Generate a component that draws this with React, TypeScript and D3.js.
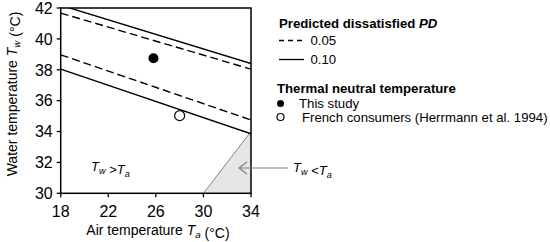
import React from "react";
import * as d3 from "d3";

const xTicks = [18, 22, 26, 30, 34];
const yTicks = [30, 32, 34, 36, 38, 40, 42];
const pdUpper010 = [[18, 42.18], [34, 38.4]];
const pdUpper005 = [[18, 41.67], [34, 38.04]];
const pdLower005 = [[18, 38.97], [34, 34.75]];
const pdLower010 = [[18, 38.04], [34, 33.85]];
const thisStudy = [[25.8, 38.75]];
const french = [[28.0, 35.03]];
const twLessTa = [[30, 30], [34, 30], [34, 34]];

const FONT = "Arial, 'Liberation Sans', sans-serif";

export default function App() {
  const W = 550, H = 242;
  const x = d3.scaleLinear().domain([18, 34]).range([60.7, 251]);
  const y = d3.scaleLinear().domain([30, 42]).range([193.3, 8]);
  const line = d3.line<number[]>().x(d => x(d[0])).y(d => y(d[1]));
  const x0 = x(18), x1 = x(34), y0 = y(30), y1 = y(42);

  const sub = (base: string, s: string, size: number) => (
    <>
      <tspan fontStyle="italic">{base}</tspan>
      <tspan fontStyle="italic" fontSize={size * 0.7} dy={size * 0.22}>{s}</tspan>
      <tspan dy={-size * 0.22}></tspan>
    </>
  );
  const LF = 13.2;

  return (
    <svg width={W} height={H} style={{ position: "absolute", left: 0, top: 0, background: "#fff" }} fontFamily={FONT}>
      <defs>
        <clipPath id="plot">
          <rect x={x0} y={y1} width={x1 - x0} height={y0 - y1} />
        </clipPath>
      </defs>
      {/* shaded Tw<Ta region */}
      <path d={line(twLessTa as any) + "Z"} fill="#e6e6e6" stroke="none" />
      <path d={line([twLessTa[0], twLessTa[2]] as any) || ""} stroke="#777" strokeWidth={0.9} fill="none" />
      <g clipPath="url(#plot)" fill="none" stroke="#000" strokeWidth={1.4}>
        <path d={line(pdUpper010 as any) || ""} />
        <path d={line(pdLower010 as any) || ""} />
        <path d={line(pdUpper005 as any) || ""} strokeDasharray="8,4" />
        <path d={line(pdLower005 as any) || ""} strokeDasharray="8,4" />
      </g>
      {/* frame */}
      <rect x={x0} y={y1} width={x1 - x0} height={y0 - y1} fill="none" stroke="#000" strokeWidth={1.5} />
      {/* ticks */}
      {yTicks.map(t => (
        <g key={"y" + t}>
          <line x1={x0 - 4} x2={x0} y1={y(t)} y2={y(t)} stroke="#000" strokeWidth={1.3} />
          <text x={x0 - 8} y={y(t)} dy="0.36em" textAnchor="end" fontSize={16}>{t}</text>
        </g>
      ))}
      {xTicks.map(t => (
        <g key={"x" + t}>
          <line x1={x(t)} x2={x(t)} y1={y0} y2={y0 + 4} stroke="#000" strokeWidth={1.3} />
          <text x={x(t)} y={y0 + 24} textAnchor="middle" fontSize={16}>{t}</text>
        </g>
      ))}
      {/* points */}
      {thisStudy.map((d, i) => <circle key={"a" + i} cx={x(d[0])} cy={y(d[1])} r={5} fill="#000" />)}
      {french.map((d, i) => <circle key={"b" + i} cx={x(d[0])} cy={y(d[1])} r={5} fill="#fff" stroke="#000" strokeWidth={1.2} />)}
      {/* axis titles */}
      <text x={158} y={235} textAnchor="middle" fontSize={14}>
        Air temperature {sub("T", "a", 14)} (°C)
      </text>
      <text transform={`translate(17,94) rotate(-90)`} textAnchor="middle" fontSize={14}>
        Water temperature {sub("T", "w", 14)} (°C)
      </text>
      {/* annotations */}
      <text x={91} y={171} fontSize={13}>{sub("T", "w", 13)} &gt;{sub("T", "a", 13)}</text>
      <line x1={288} x2={239} y1={168} y2={168} stroke="#808080" strokeWidth={1.2} />
      <path d="M247,162 L239,168 L247,174" fill="none" stroke="#808080" strokeWidth={1.2} />
      <text x={293} y={172} fontSize={13}>{sub("T", "w", 13)} &lt;{sub("T", "a", 13)}</text>
      {/* legend */}
      <text x={279} y={28.3} fontSize={LF} fontWeight="bold">Predicted dissatisfied <tspan fontStyle="italic">PD</tspan></text>
      <line x1={279} x2={304} y1={40.5} y2={40.5} stroke="#000" strokeWidth={1.3} strokeDasharray="5,4" />
      <text x={310.5} y={45} fontSize={LF}>0.05</text>
      <line x1={279} x2={304} y1={59.5} y2={59.5} stroke="#000" strokeWidth={1.3} />
      <text x={310.5} y={64} fontSize={LF}>0.10</text>
      <text x={277} y={92.5} fontSize={LF} fontWeight="bold">Thermal neutral temperature</text>
      <circle cx={280.5} cy={103.5} r={3.5} fill="#000" />
      <text x={299} y={108} fontSize={LF}>This study</text>
      <circle cx={280.5} cy={117} r={3.5} fill="#fff" stroke="#000" strokeWidth={1.2} />
      <text x={302} y={121.5} fontSize={LF}>French consumers (Herrmann et al. 1994)</text>
    </svg>
  );
}
